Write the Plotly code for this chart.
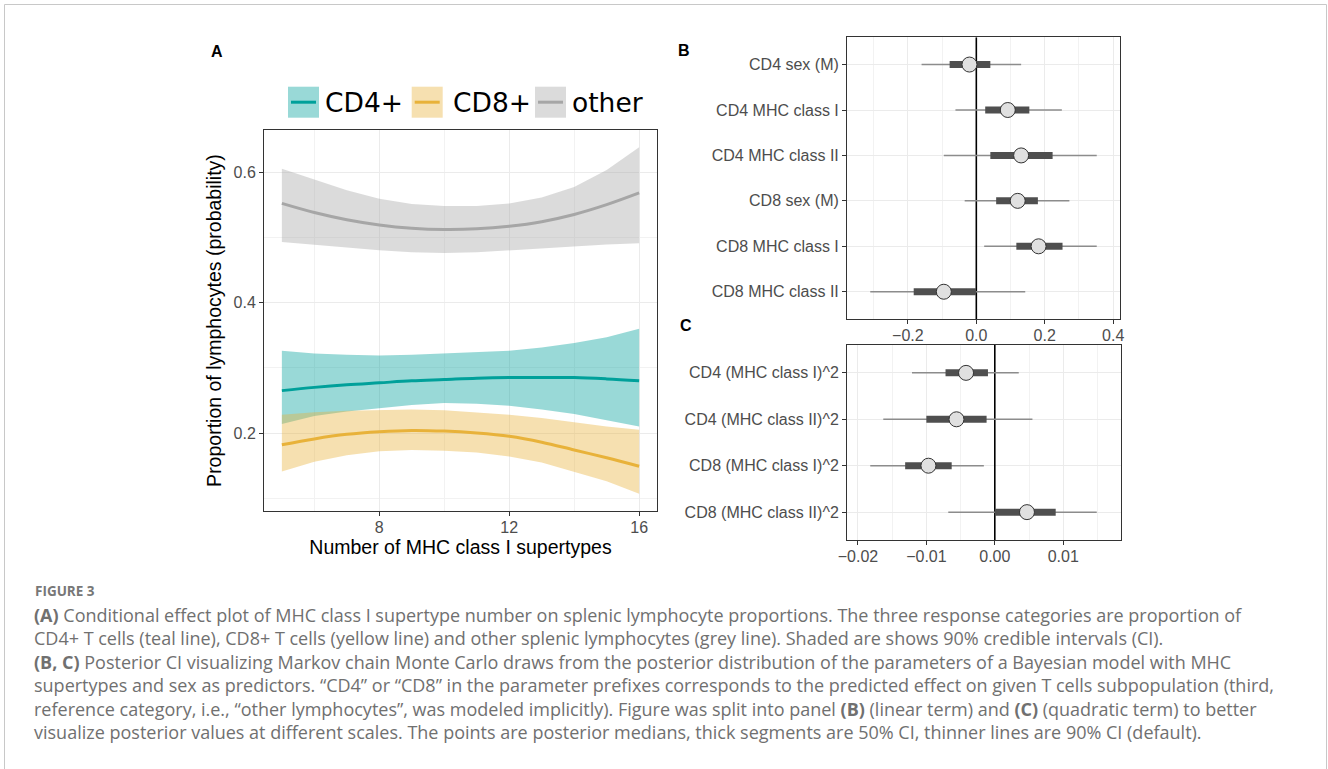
import plotly.graph_objects as go

W, H = 1328, 769

# ---------------- Panel A data ----------------
supertypes = [5, 6, 7, 8, 9, 10, 11, 12, 13, 14, 15, 16]
cd4_mean = [0.265, 0.270, 0.274, 0.277, 0.280, 0.282, 0.284, 0.285, 0.285, 0.285, 0.283, 0.280]
cd4_upper = [0.326, 0.322, 0.320, 0.319, 0.320, 0.322, 0.324, 0.326, 0.331, 0.338, 0.347, 0.360]
cd4_lower = [0.214, 0.226, 0.233, 0.238, 0.243, 0.246, 0.245, 0.242, 0.236, 0.229, 0.220, 0.210]
cd8_mean = [0.182, 0.191, 0.198, 0.202, 0.204, 0.203, 0.200, 0.195, 0.186, 0.174, 0.162, 0.149]
cd8_upper = [0.228, 0.232, 0.234, 0.235, 0.236, 0.235, 0.232, 0.228, 0.223, 0.216, 0.210, 0.205]
cd8_lower = [0.141, 0.156, 0.166, 0.172, 0.174, 0.173, 0.170, 0.164, 0.155, 0.141, 0.126, 0.107]
oth_mean = [0.552, 0.538, 0.527, 0.519, 0.514, 0.512, 0.513, 0.517, 0.524, 0.535, 0.550, 0.568]
oth_upper = [0.605, 0.588, 0.572, 0.559, 0.551, 0.548, 0.548, 0.552, 0.561, 0.577, 0.603, 0.638]
oth_lower = [0.493, 0.488, 0.484, 0.480, 0.477, 0.476, 0.477, 0.479, 0.482, 0.486, 0.489, 0.491]

groups = ["CD4+", "CD8+", "other"]
colors = {"CD4+": (0, 160, 154), "CD8+": (232, 178, 58), "other": (166, 166, 166)}

# ---------------- Panel B data ----------------
b_params = ["CD4 sex (M)", "CD4 MHC class I", "CD4 MHC class II",
            "CD8 sex (M)", "CD8 MHC class I", "CD8 MHC class II"]
b_median = [-0.020, 0.092, 0.131, 0.121, 0.182, -0.095]
b_l50 = [-0.078, 0.026, 0.041, 0.058, 0.117, -0.183]
b_h50 = [0.041, 0.155, 0.223, 0.180, 0.252, -0.001]
b_l90 = [-0.160, -0.061, -0.095, -0.034, 0.023, -0.310]
b_h90 = [0.131, 0.250, 0.352, 0.272, 0.352, 0.143]

# ---------------- Panel C data ----------------
c_params = ["CD4 (MHC class I)^2", "CD4 (MHC class II)^2",
            "CD8 (MHC class I)^2", "CD8 (MHC class II)^2"]
c_median = [-0.0042, -0.0056, -0.0097, 0.0047]
c_l50 = [-0.0072, -0.0100, -0.0131, 0.0000]
c_h50 = [-0.0010, -0.0012, -0.0063, 0.0089]
c_l90 = [-0.0121, -0.0163, -0.0182, -0.0068]
c_h90 = [0.0035, 0.0055, -0.0016, 0.0149]

caption_lines = [
    "<b>(A)</b> Conditional effect plot of MHC class I supertype number on splenic lymphocyte proportions. The three response categories are proportion of",
    "CD4+ T cells (teal line), CD8+ T cells (yellow line) and other splenic lymphocytes (grey line). Shaded are shows 90% credible intervals (CI).",
    "<b>(B, C)</b> Posterior CI visualizing Markov chain Monte Carlo draws from the posterior distribution of the parameters of a Bayesian model with MHC",
    "supertypes and sex as predictors. \u201cCD4\u201d or \u201cCD8\u201d in the parameter prefixes corresponds to the predicted effect on given T cells subpopulation (third,",
    "reference category, i.e., \u201cother lymphocytes\u201d, was modeled implicitly). Figure was split into panel <b>(B)</b> (linear term) and <b>(C)</b> (quadratic term) to better",
    "visualize posterior values at different scales. The points are posterior medians, thick segments are 50% CI, thinner lines are 90% CI (default).",
]


def rgb(c, a=None):
    if a is None:
        return "rgb(%d,%d,%d)" % c
    return "rgba(%d,%d,%d,%.2f)" % (c + (a,))


def px(x):
    return x / W


def py(y):
    return 1 - y / H


fig = go.Figure()

# ---- Panel A ribbons and lines ----
series = {
    "CD4+": (cd4_mean, cd4_lower, cd4_upper),
    "CD8+": (cd8_mean, cd8_lower, cd8_upper),
    "other": (oth_mean, oth_lower, oth_upper),
}
for g in groups:
    m, lo, hi = series[g]
    fig.add_trace(go.Scatter(
        x=supertypes + supertypes[::-1], y=hi + lo[::-1],
        fill="toself", fillcolor=rgb(colors[g], 0.4), line=dict(width=0),
        mode="lines", hoverinfo="skip", showlegend=False, xaxis="x", yaxis="y"))
for g in groups:
    m, lo, hi = series[g]
    fig.add_trace(go.Scatter(
        x=supertypes, y=m, mode="lines", name=g,
        line=dict(color=rgb(colors[g]), width=3, shape="spline"),
        showlegend=False, xaxis="x", yaxis="y"))


def interval_traces(params, med, l50, h50, l90, h90, xa, ya):
    n = len(params)
    pos = [n - i for i in range(n)]
    # reference line at zero spanning the panel
    fig.add_trace(go.Scatter(x=[0, 0], y=[0.4, n + 0.6], mode="lines",
                             line=dict(color="black", width=1.6),
                             showlegend=False, hoverinfo="skip", xaxis=xa, yaxis=ya))
    xs90, ys90, xs50, ys50 = [], [], [], []
    for p, a, b, c, d in zip(pos, l90, h90, l50, h50):
        xs90 += [a, b, None]
        ys90 += [p, p, None]
        xs50 += [c, d, None]
        ys50 += [p, p, None]
    fig.add_trace(go.Scatter(x=xs90, y=ys90, mode="lines",
                             line=dict(color="#8C8C8C", width=1.5),
                             showlegend=False, xaxis=xa, yaxis=ya))
    fig.add_trace(go.Scatter(x=xs50, y=ys50, mode="lines",
                             line=dict(color="#4F4F4F", width=7),
                             showlegend=False, xaxis=xa, yaxis=ya))
    fig.add_trace(go.Scatter(x=med, y=pos, mode="markers", text=params,
                             marker=dict(size=15, color="#E0E0E0",
                                         line=dict(color="#333333", width=1)),
                             showlegend=False, xaxis=xa, yaxis=ya))
    return pos


b_pos = interval_traces(b_params, b_median, b_l50, b_h50, b_l90, b_h90, "x2", "y2")
c_pos = interval_traces(c_params, c_median, c_l50, c_h50, c_l90, c_h90, "x3", "y3")

tickfont = dict(family="Liberation Sans, Arial", size=16, color="#4D4D4D")
titlefont = dict(family="Liberation Sans, Arial", size=19.5, color="#000000")
common = dict(showline=True, mirror=True, linecolor="#333333", linewidth=1,
              ticks="outside", ticklen=4, tickcolor="#333333", tickwidth=1,
              gridcolor="#EBEBEB", gridwidth=1.2, zeroline=False, automargin=False,
              tickfont=tickfont)
minor_style = dict(showgrid=True, gridcolor="#F2F2F2", gridwidth=0.7, ticks="")

layout = dict(
    template="none",
    width=W, height=H, margin=dict(l=0, r=0, t=0, b=0, pad=0),
    paper_bgcolor="white", plot_bgcolor="white", showlegend=False,
    xaxis=dict(domain=[px(264), px(657)], range=[4.45, 16.55], anchor="y",
               tickvals=[8, 12, 16], ticklabelstandoff=-2,
               minor=dict(tickvals=[6, 10, 14], **minor_style),
               title=dict(text="Number of MHC class I supertypes", font=titlefont, standoff=4),
               **common),
    yaxis=dict(domain=[py(511), py(130)], range=[0.0805, 0.6645], anchor="x",
               tickvals=[0.2, 0.4, 0.6], tickformat=".1f",
               minor=dict(tickvals=[0.1, 0.3, 0.5], **minor_style),
               title=dict(text="Proportion of lymphocytes (probability)", font=titlefont, standoff=6),
               **common),
    xaxis2=dict(domain=[px(847), px(1120)], range=[-0.378, 0.42], anchor="y2",
                tickvals=[-0.2, 0.0, 0.2, 0.4], tickformat=".1f", ticklabelstandoff=-2,
                minor=dict(tickvals=[-0.3, -0.1, 0.1, 0.3], **minor_style),
                **common),
    yaxis2=dict(domain=[py(319), py(37.3)], anchor="x2",
                tickvals=b_pos, ticktext=b_params,
                range=[0.4, len(b_params) + 0.6], **common),
    xaxis3=dict(domain=[px(847), px(1120.7)], range=[-0.0216, 0.0184], anchor="y3",
                tickvals=[-0.02, -0.01, 0.0, 0.01], tickformat=".2f", ticklabelstandoff=-2,
                minor=dict(tickvals=[-0.015, -0.005, 0.005, 0.015], **minor_style),
                **common),
    yaxis3=dict(domain=[py(540), py(345)], anchor="x3",
                tickvals=c_pos, ticktext=c_params,
                range=[0.4, len(c_params) + 0.6], **common),
)
fig.update_layout(**layout)

shapes = []
# outer frame
shapes.append(dict(type="rect", xref="paper", yref="paper", x0=px(4.5), x1=px(1326.5),
                   y0=-0.05, y1=py(4.5), line=dict(color="#C8C8C8", width=1)))

annotations = []
# manual legend for panel A
leg_x = [288, 411.7, 535]
leg_tx = [323, 450.5, 569.5]
for g, x0, tx in zip(groups, leg_x, leg_tx):
    shapes.append(dict(type="rect", xref="paper", yref="paper",
                       x0=px(x0), x1=px(x0 + 31), y0=py(117.7), y1=py(86.7),
                       fillcolor=rgb(colors[g], 0.4), line=dict(width=0)))
    shapes.append(dict(type="line", xref="paper", yref="paper",
                       x0=px(x0 + 3), x1=px(x0 + 28), y0=py(102.2), y1=py(102.2),
                       line=dict(color=rgb(colors[g]), width=3)))
    annotations.append(dict(xref="paper", yref="paper", x=px(tx), y=py(102.5),
                            xanchor="left", yanchor="middle", showarrow=False,
                            text=g, font=dict(family="DejaVu Sans", size=26.5, color="black")))

# panel letters
for lab, x, y in [("A", 216.5, 52), ("B", 683.5, 50.5), ("C", 685.5, 325)]:
    annotations.append(dict(xref="paper", yref="paper", x=px(x), y=py(y),
                            xanchor="center", yanchor="middle", showarrow=False,
                            text="<b>%s</b>" % lab,
                            font=dict(family="Liberation Sans, Arial", size=16, color="black")))

# caption
annotations.append(dict(xref="paper", yref="paper", x=px(33), y=py(591),
                        xanchor="left", yanchor="middle", showarrow=False,
                        text="<b>FIGURE 3</b>",
                        font=dict(family="Open Sans", size=13.5, color="#777777")))
cap_center = 614.5 + 23.4 * (len(caption_lines) - 1) / 2
annotations.append(dict(xref="paper", yref="paper", x=px(32), y=py(cap_center),
                        xanchor="left", yanchor="middle", align="left", showarrow=False,
                        text="<br>".join(caption_lines),
                        font=dict(family="Open Sans", size=18, color="#707070")))

fig.update_layout(shapes=shapes, annotations=annotations)
fig.write_html("out.html", config={"displayModeBar": False},
               post_script="document.body.style.margin='0';document.body.style.padding='0';")
